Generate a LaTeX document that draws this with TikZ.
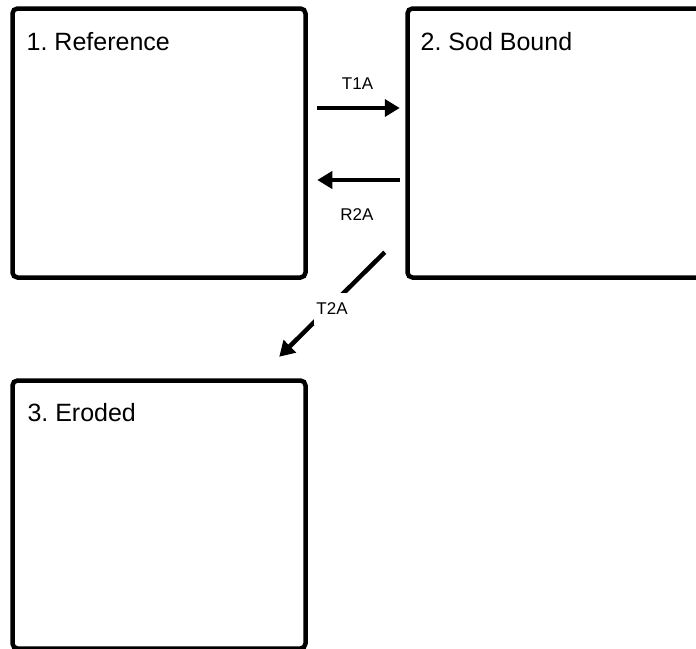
\documentclass[tikz,border=0pt]{standalone}
\usepackage{fontspec}
\setmainfont{Liberation Sans}
\frenchspacing
\usetikzlibrary{arrows.meta}
\begin{document}
\begin{tikzpicture}[x=1pt,y=1pt,
  statebox/.style={draw=black,line width=4.5pt,rounded corners=5pt,inner sep=0pt,fill=none},
  boxtitle/.style={anchor=base west,inner sep=0pt,font=\fontsize{25}{29}\selectfont},
  arrlabel/.style={inner sep=1.5pt,font=\fontsize{17}{20}\selectfont},
  arr/.style={line width=4.5pt,-{Triangle[length=15pt,width=17pt]}}]
\useasboundingbox (0,0) rectangle (696,-648);
\clip (0,0) rectangle (696,-648);
% boxes
\node[statebox,minimum width=293pt,minimum height=269pt] (b1) at (159,-143) {};
\node[statebox,minimum width=296pt,minimum height=269pt] (b2) at (555.5,-143) {};
\node[statebox,minimum width=293pt,minimum height=268pt] (b3) at (159,-514.5) {};
% titles
\node[boxtitle] (t1) at (26.5,-50) {1. Reference};
\node[boxtitle] (t2) at (420.5,-50) {2. Sod Bound};
\node[boxtitle] (t3) at (27.3,-421.5) {3. Eroded};
% arrows
\draw[arr] ([xshift=9.5pt,yshift=35pt]b1.east) -- ([xshift=-5.5pt,yshift=35pt]b2.west);
\node[arrlabel] (l1) at (357.5,-84) {T1A};
\draw[arr] ([xshift=-5.5pt,yshift=-37pt]b2.west) -- ([xshift=9.5pt,yshift=-37pt]b1.east);
\node[arrlabel] (l2) at (357,-215) {R2A};
\draw[arr] ([xshift=-20.5pt,yshift=27.5pt]b2.south west) -- ([xshift=-28.5pt,yshift=21.5pt]b3.north east);
\node[arrlabel,fill=white,inner xsep=2pt,inner ysep=10.5pt] (l3) at (332,-309) {T2A};
\end{tikzpicture}
\end{document}
